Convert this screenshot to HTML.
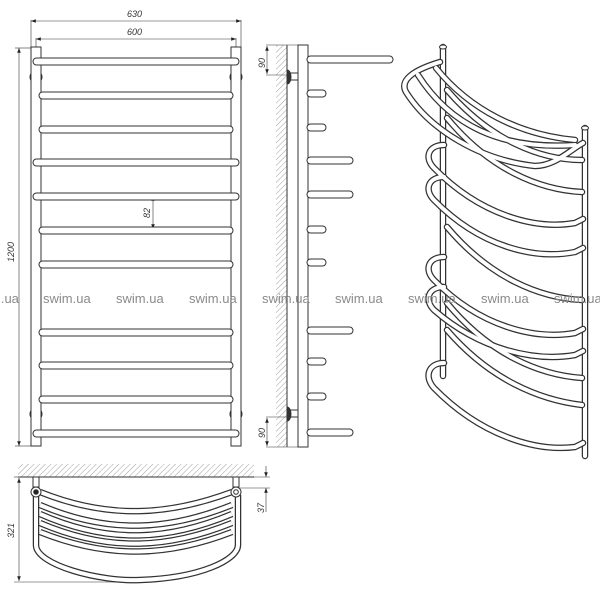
<!DOCTYPE html>
<html><head><meta charset="utf-8"><style>
html,body{margin:0;padding:0;background:#fff;width:600px;height:600px;overflow:hidden}
svg{display:block}
text{font-family:"Liberation Sans",sans-serif}
</style></head><body>
<svg width="600" height="600" viewBox="0 0 600 600" xmlns="http://www.w3.org/2000/svg">
<defs>
<pattern id="h" width="4" height="4" patternUnits="userSpaceOnUse" patternTransform="rotate(45)">
<line x1="0" y1="0" x2="0" y2="4" stroke="#888" stroke-width="0.8"/>
</pattern>
<marker id="a" viewBox="0 0 8 6" refX="8" refY="3" markerWidth="8" markerHeight="6" orient="auto-start-reverse"><path d="M0,0L8,3L0,6z" fill="#222"/></marker>
</defs>

<!-- ================= FRONT VIEW ================= -->
<g stroke="#333" fill="#fff" stroke-width="1">
<!-- dims -->
<line x1="31" y1="20" x2="31" y2="47" stroke-width="0.6"/>
<line x1="241" y1="20" x2="241" y2="47" stroke-width="0.6"/>
<line x1="36" y1="38" x2="36" y2="47" stroke-width="0.6"/>
<line x1="236" y1="38" x2="236" y2="47" stroke-width="0.6"/>
<line x1="31" y1="21" x2="241" y2="21" stroke-width="0.6" marker-start="url(#a)" marker-end="url(#a)"/>
<line x1="36" y1="39" x2="236" y2="39" stroke-width="0.6" marker-start="url(#a)" marker-end="url(#a)"/>
<line x1="15" y1="48" x2="31" y2="48" stroke-width="0.6"/>
<line x1="15" y1="446" x2="31" y2="446" stroke-width="0.6"/>
<line x1="19" y1="48" x2="19" y2="446" stroke-width="0.6" marker-start="url(#a)" marker-end="url(#a)"/>
<line x1="153" y1="196" x2="153" y2="229" stroke-width="0.6" marker-start="url(#a)" marker-end="url(#a)"/>
<!-- brackets -->
<circle cx="36" cy="77" r="6"/><circle cx="236" cy="77" r="6"/>
<circle cx="36" cy="414" r="6"/><circle cx="236" cy="414" r="6"/>
<!-- posts -->
<rect x="31" y="47" width="10" height="399"/>
<rect x="231" y="47" width="10" height="399"/>
<!-- bars -->
<rect x="33" y="58" width="206" height="7" rx="3.5"/>
<rect x="39" y="92" width="194" height="7" rx="3.5"/>
<rect x="39" y="126" width="194" height="7" rx="3.5"/>
<rect x="33" y="159" width="206" height="7" rx="3.5"/>
<rect x="33" y="193" width="206" height="7" rx="3.5"/>
<rect x="39" y="227" width="194" height="7" rx="3.5"/>
<rect x="39" y="261" width="194" height="7" rx="3.5"/>
<rect x="39" y="329" width="194" height="7" rx="3.5"/>
<rect x="39" y="362" width="194" height="7" rx="3.5"/>
<rect x="39" y="396" width="194" height="7" rx="3.5"/>
<rect x="33" y="430" width="206" height="7" rx="3.5"/>
</g>
<g font-size="9" font-style="italic" fill="#333">
<text x="127" y="17">630</text>
<text x="127" y="35">600</text>
<text transform="translate(14,262) rotate(-90)">1200</text>
<text transform="translate(150,218) rotate(-90)">82</text>
</g>

<!-- ================= SIDE VIEW ================= -->
<rect x="276" y="45" width="11" height="402" fill="url(#h)"/>
<g stroke="#333" fill="#fff" stroke-width="1">
<line x1="287" y1="45" x2="287" y2="447"/>
<line x1="266" y1="45" x2="298" y2="45" stroke-width="0.6"/>
<line x1="266" y1="75" x2="287" y2="75" stroke-width="0.6"/>
<line x1="266" y1="417" x2="287" y2="417" stroke-width="0.6"/>
<line x1="266" y1="447" x2="298" y2="447" stroke-width="0.6"/>
<line x1="267" y1="46" x2="267" y2="74" stroke-width="0.6" marker-start="url(#a)" marker-end="url(#a)"/>
<line x1="267" y1="418" x2="267" y2="446" stroke-width="0.6" marker-start="url(#a)" marker-end="url(#a)"/>
<rect x="287" y="73" width="11" height="7"/>
<rect x="287" y="410" width="11" height="7"/>
<path d="M287,70 a4,7 0 0 1 0,14z" fill="#333"/>
<path d="M287,407 a4,7 0 0 1 0,14z" fill="#333"/>
<rect x="298" y="45" width="10" height="402"/>
<rect x="307" y="56" width="86" height="7" rx="3.5"/>
<rect x="307" y="90" width="19" height="7" rx="3.5"/>
<rect x="307" y="124" width="19" height="7" rx="3.5"/>
<rect x="307" y="157" width="46" height="7" rx="3.5"/>
<rect x="307" y="191" width="46" height="7" rx="3.5"/>
<rect x="307" y="226" width="19" height="7" rx="3.5"/>
<rect x="307" y="259" width="19" height="7" rx="3.5"/>
<rect x="307" y="327" width="46" height="7" rx="3.5"/>
<rect x="307" y="358" width="19" height="7" rx="3.5"/>
<rect x="307" y="393" width="19" height="7" rx="3.5"/>
<rect x="307" y="429" width="46" height="7" rx="3.5"/>
</g>
<g font-size="9" font-style="italic" fill="#333">
<text transform="translate(265,68) rotate(-90)">90</text>
<text transform="translate(265,438) rotate(-90)">90</text>
</g>

<!-- ================= ISO VIEW ================= -->
<g fill="none" stroke-linecap="round">
<g id="tubesBack" stroke="#333" stroke-width="6.5">
<line x1="443" y1="47" x2="443" y2="376"/>
<line x1="585" y1="128" x2="585" y2="456"/>
</g>
<g stroke="#fff" stroke-width="4">
<line x1="443" y1="47" x2="443" y2="376"/>
<line x1="585" y1="128" x2="585" y2="456"/>
</g>
<g id="bars">
<!-- non hook bars -->
<path d="M447,90 C490,140 540,160 582,160"/>
<path d="M447,118 C490,170 540,190 582,192"/>
<path d="M447,227 C490,278 540,298 582,300"/>
<path d="M447,303 C490,355 540,375 582,378"/>
<path d="M447,330 C490,380 540,400 582,405"/>
<!-- basket inner -->
<path d="M418,75 C450,125 500,150 575,145"/>
<path d="M436,68 C470,110 520,135 575,140"/>
<!-- basket outer -->
<path d="M440,62 C420,68 398,78 406,92 C430,130 480,160 535,166 C555,166 570,150 583,143"/>
<!-- hook bars -->
<path d="M444,145 C428,145 424,158 434,168 C480,215 535,230 575,223 L583,219"/>
<path d="M444,177 C428,177 424,190 434,200 C480,247 535,260 575,252 L583,248"/>
<path d="M444,257 C428,257 424,270 434,280 C480,327 535,340 575,333 L583,329"/>
<path d="M444,287 C428,287 424,300 434,310 C480,350 535,362 575,355 L583,351"/>
<path d="M444,363 C428,363 424,377 434,388 C480,435 535,452 575,447 L583,443"/>
</g>
</g>
<use href="#bars" stroke="#333" stroke-width="6.5" fill="none" stroke-linecap="round"/>
<use href="#bars" stroke="#fff" stroke-width="4" fill="none" stroke-linecap="round"/>
<g fill="#fff" stroke="#333" stroke-width="1">
<ellipse cx="443" cy="47" rx="3.5" ry="2"/>
<ellipse cx="585" cy="128" rx="3.5" ry="2"/>
</g>

<!-- ================= TOP VIEW ================= -->
<rect x="18" y="464" width="236" height="13" fill="url(#h)"/>
<g stroke="#333" fill="none" stroke-width="1">
<line x1="18" y1="477" x2="254" y2="477"/>
<line x1="14" y1="477" x2="30" y2="477" stroke-width="0.6"/>
<line x1="14" y1="582" x2="130" y2="582" stroke-width="0.6"/>
<line x1="19" y1="478" x2="19" y2="581" stroke-width="0.6" marker-start="url(#a)" marker-end="url(#a)"/>
<line x1="240" y1="477" x2="270" y2="477" stroke-width="0.6"/>
<line x1="240" y1="488" x2="270" y2="488" stroke-width="0.6"/>
<line x1="266" y1="466" x2="266" y2="477" stroke-width="0.6" marker-end="url(#a)"/>
<line x1="266" y1="500" x2="266" y2="488" stroke-width="0.6" marker-end="url(#a)"/>
<line x1="266" y1="500" x2="266" y2="512" stroke-width="0.6"/>
<rect x="33" y="477" width="6" height="10" fill="#fff"/>
<rect x="233" y="477" width="6" height="10" fill="#fff"/>
</g>
<g id="basket" fill="none">
<path d="M40,492 C110,520 170,515 232,492"/>
<path d="M40,505 C110,535 170,530 232,505"/>
<path d="M40,514 C110,545 170,540 232,514"/>
<path d="M40,523 C110,553 170,548 232,523"/>
<path d="M40,532 C110,560 170,556 232,532"/>
<path d="M36,495 L36,545 C36,565 100,582 140,580 C200,578 238,560 238,545 L238,495"/>
</g>
<use href="#basket" stroke="#333" stroke-width="6.5"/>
<use href="#basket" stroke="#fff" stroke-width="4"/>
<g stroke="#333" stroke-width="1">
<circle cx="36" cy="492" r="5" fill="#fff"/><circle cx="36" cy="492" r="2.3" fill="#222"/>
<circle cx="236" cy="492" r="5" fill="#fff"/><circle cx="236" cy="492" r="2.3" fill="#fff"/>
</g>
<g font-size="9" font-style="italic" fill="#333">
<text transform="translate(14,538) rotate(-90)">321</text>
<text transform="translate(264,513) rotate(-90)">37</text>
</g>

<!-- ================= WATERMARK ================= -->
<g font-size="13" fill="#8a8a8a">
<text x="-10" y="303">m.ua</text>
<text x="43" y="303">swim.ua</text>
<text x="116" y="303">swim.ua</text>
<text x="189" y="303">swim.ua</text>
<text x="262" y="303">swim.ua</text>
<text x="335" y="303">swim.ua</text>
<text x="408" y="303">swim.ua</text>
<text x="481" y="303">swim.ua</text>
<text x="554" y="303">swim.ua</text>
</g>
</svg>
</body></html>
